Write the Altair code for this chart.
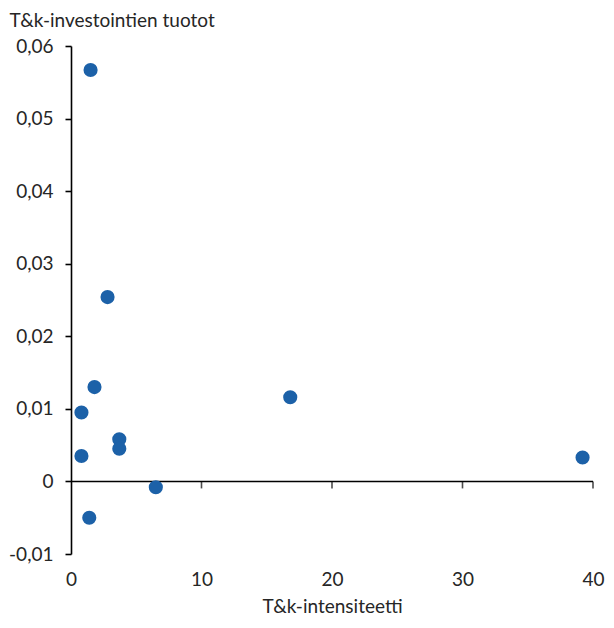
import altair as alt
import pandas as pd

# Data
rd_intensity = [1.5, 2.8, 1.8, 0.8, 0.8, 3.7, 3.7, 6.5, 1.4, 16.8, 39.2]
rd_returns = [0.0567, 0.0254, 0.0130, 0.0095, 0.0035, 0.0058, 0.0045, -0.0008, -0.0050, 0.0116, 0.0033]
x_ticks = [0, 10, 20, 30, 40]
y_ticks = [-0.01, 0.0, 0.01, 0.02, 0.03, 0.04, 0.05, 0.06]

df = pd.DataFrame({"x": rd_intensity, "y": rd_returns})
axis_line = pd.DataFrame({"x": [x_ticks[0]], "x2": [x_ticks[-1]], "y": [0.0]})
tick_df = pd.DataFrame({"x": x_ticks[1:], "y": [0.0] * (len(x_ticks) - 1)})

FONT = "Lato"
FS = 19
INK = "#000000"
TXT = "#262626"
xscale = alt.Scale(domain=[0, 40], nice=False, zero=False)
yscale = alt.Scale(domain=[-0.01, 0.06], nice=False, zero=False)

points = alt.Chart(df).mark_circle(size=200, opacity=1, color="#1c61a8").encode(
    x=alt.X("x:Q", scale=xscale,
            axis=alt.Axis(values=x_ticks, title="T&k-intensiteetti", domain=False, ticks=False,
                          tickSize=0, labelPadding=16, grid=False, labelFontSize=FS, labelFlush=False,
                          titleFontSize=FS, titleFontWeight="normal", titleBaseline="alphabetic",
                          titleY=58, labelColor=TXT, titleColor=TXT, labelFont=FONT, titleFont=FONT)),
    y=alt.Y("y:Q", scale=yscale,
            axis=alt.Axis(values=y_ticks, title="T&k-investointien tuotot", grid=False, labelFlush=False,
                          labelExpr="replace(replace(format(datum.value, '.2~f'), '.', ','), '\u2212', '-')",
                          domainColor=INK, domainWidth=1.6, tickColor=INK, tickWidth=1.6, tickSize=6,
                          labelPadding=12, labelFontSize=FS, titleFontSize=FS, titleFontWeight="normal",
                          titleAngle=0, titleAlign="left", titleBaseline="alphabetic",
                          titleX=-62, titleY=-20, labelColor=TXT, titleColor=TXT,
                          labelFont=FONT, titleFont=FONT)),
)

zero_line = alt.Chart(axis_line).mark_rule(color=INK, strokeWidth=1.6).encode(
    x="x:Q", x2="x2:Q", y="y:Q"
)

zero_ticks = alt.Chart(tick_df).mark_tick(color=INK, orient="vertical", size=7, thickness=1.6, yOffset=3.5).encode(
    x="x:Q", y="y:Q"
)

chart = alt.layer(zero_line, zero_ticks, points).properties(
    width=522, height=508,
    padding={"left": 63, "top": 38, "right": 13, "bottom": 66},
    autosize=alt.AutoSizeParams(type="none"),
).configure_view(stroke=None)

chart.save("out.html", embed_options={"renderer": "svg", "actions": False})
